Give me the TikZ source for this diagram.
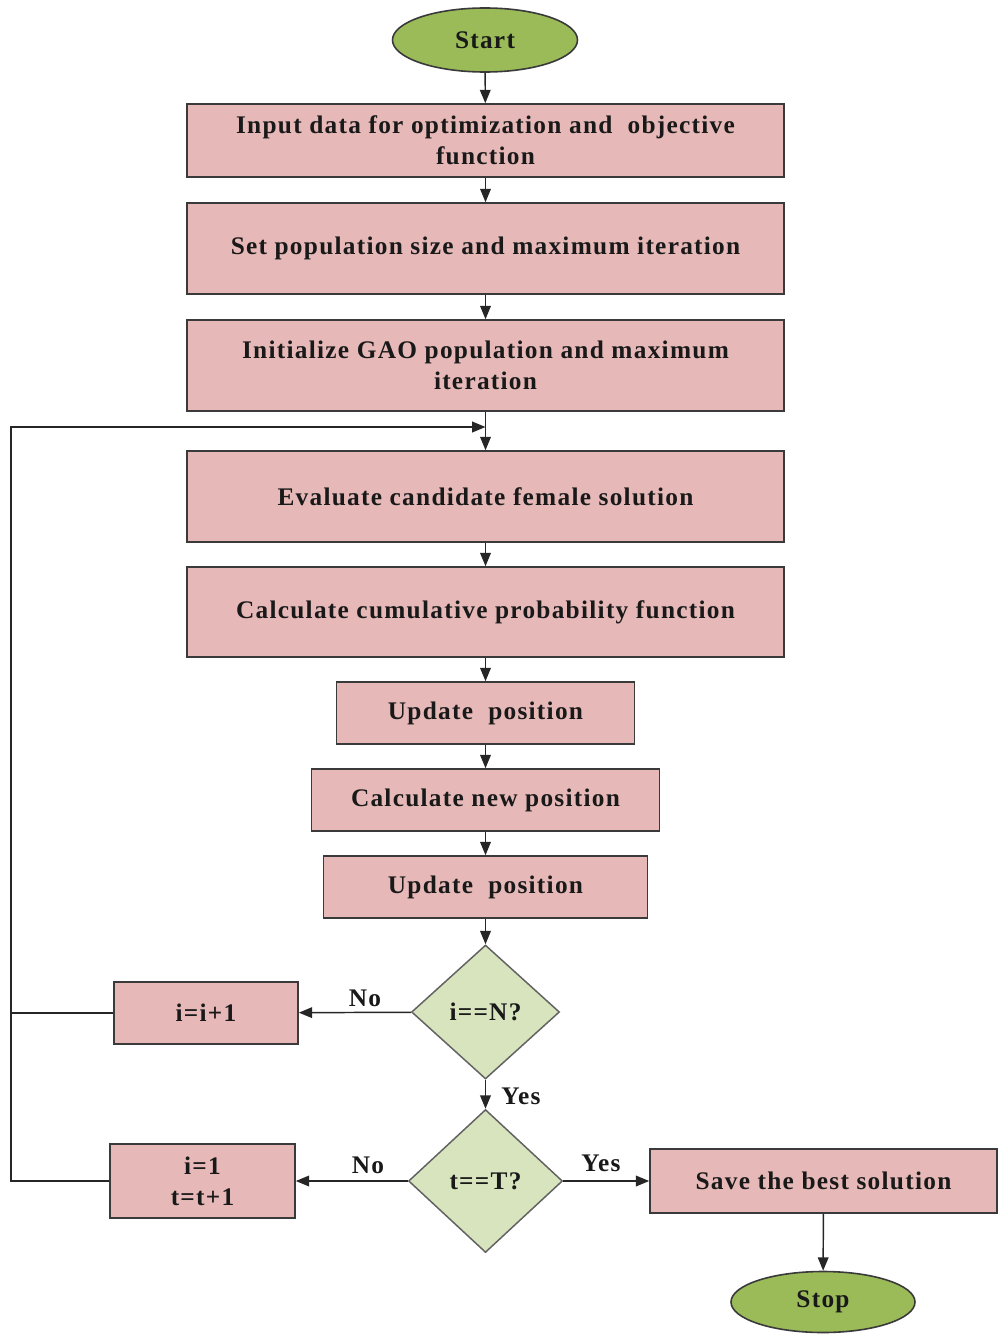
\documentclass[tikz,border=0pt]{standalone}
\usepackage{fontspec}
\setmainfont[LetterSpace=5]{Liberation Serif}
\usetikzlibrary{shapes.geometric,arrows.meta}
\definecolor{boxfill}{HTML}{E6B9B8}
\definecolor{dfill}{HTML}{D7E4BD}
\definecolor{efill}{HTML}{9BBB59}
\definecolor{edge}{HTML}{3A3A3A}
\begin{document}
\begin{tikzpicture}[x=0.75pt,y=-0.75pt,
  every node/.style={font=\fontsize{19}{23}\selectfont\bfseries, text=black!90},
  procbox/.style={draw=edge, line width=1.2pt, fill=boxfill, rectangle, inner sep=0pt, align=center},
  term/.style={draw=edge, line width=1.2pt, fill=efill, ellipse, inner sep=0pt},
  decide/.style={draw=edge!80, line width=1.1pt, fill=dfill, diamond, inner sep=0pt},
  lbl/.style={inner sep=1pt},
  flow/.style={draw=black!85, line width=1.1pt, -{Triangle[length=10pt,width=8pt]}},
  plain/.style={draw=black!85, line width=1.1pt}]
\useasboundingbox (0,0) rectangle (1001,1338);
\node[term, minimum width=138.75pt, minimum height=48pt] (start) at (485,40) {Start};
\node[procbox, minimum width=447.75pt, minimum height=54.75pt] (b1) at (485.5,140.5) {Input data for optimization and \ objective\\function};
\node[procbox, minimum width=447.75pt, minimum height=68.25pt] (b2) at (485.5,248.5) {Set population size and maximum iteration};
\node[procbox, minimum width=447.75pt, minimum height=68.25pt] (b3) at (485.5,365.5) {Initialize GAO population and maximum\\iteration};
\node[procbox, minimum width=447.75pt, minimum height=68.25pt] (b4) at (485.5,496.5) {Evaluate candidate female solution};
\node[procbox, minimum width=447.75pt, minimum height=67.5pt] (b5) at (485.5,612) {Calculate cumulative probability function};
\node[procbox, minimum width=223.5pt, minimum height=46.5pt] (b6) at (485.5,713) {Update\ \ position};
\node[procbox, minimum width=261pt, minimum height=46.5pt] (b7) at (485.5,800) {Calculate new position};
\node[procbox, minimum width=243pt, minimum height=46.5pt] (b8) at (485.5,887) {Update\ \ position};
\node[decide, minimum width=111pt, minimum height=100.5pt] (d1) at (485.5,1012) {i==N?};
\node[procbox, minimum width=138pt, minimum height=46.5pt] (ii) at (206,1013) {i=i+1};
\node[decide, minimum width=115.5pt, minimum height=107.25pt] (d2) at (485.5,1181) {t==T?};
\node[procbox, minimum width=138.75pt, minimum height=55.5pt] (it) at (202.5,1181) {i=1\\t=t+1};
\node[procbox, minimum width=260.25pt, minimum height=48pt] (save) at (823.5,1181) {Save the best solution};
\node[term, minimum width=138pt, minimum height=45.75pt] (stop) at (823,1302) {Stop};
\node[lbl] (no1) at (365,998) {No};
\node[lbl] (yes1) at (521,1096) {Yes};
\node[lbl] (no2) at (368,1165) {No};
\node[lbl] (yes2) at (601,1163) {Yes};
\coordinate (lb) at (11,1181);
\coordinate (lt) at (11,427);
\coordinate (merge) at (485.5,427);
\draw[flow] (start) -- (b1);
\draw[flow] (b1) -- (b2);
\draw[flow] (b2) -- (b3);
\draw[flow] (b3) -- (b4);
\draw[flow] (b4) -- (b5);
\draw[flow] (b5) -- (b6);
\draw[flow] (b6) -- (b7);
\draw[flow] (b7) -- (b8);
\draw[flow] (b8) -- (d1);
\draw[flow] (d1) -- (ii);
\draw[flow] (d1) -- (d2);
\draw[flow] (d2) -- (it);
\draw[flow] (d2) -- (save);
\draw[flow] (save) -- (stop);
\draw[plain] (ii.west) -- (ii.west -| lt);
\draw[flow] (it.west) -- (lb) -- (lt) -- (merge);
\end{tikzpicture}
\end{document}
